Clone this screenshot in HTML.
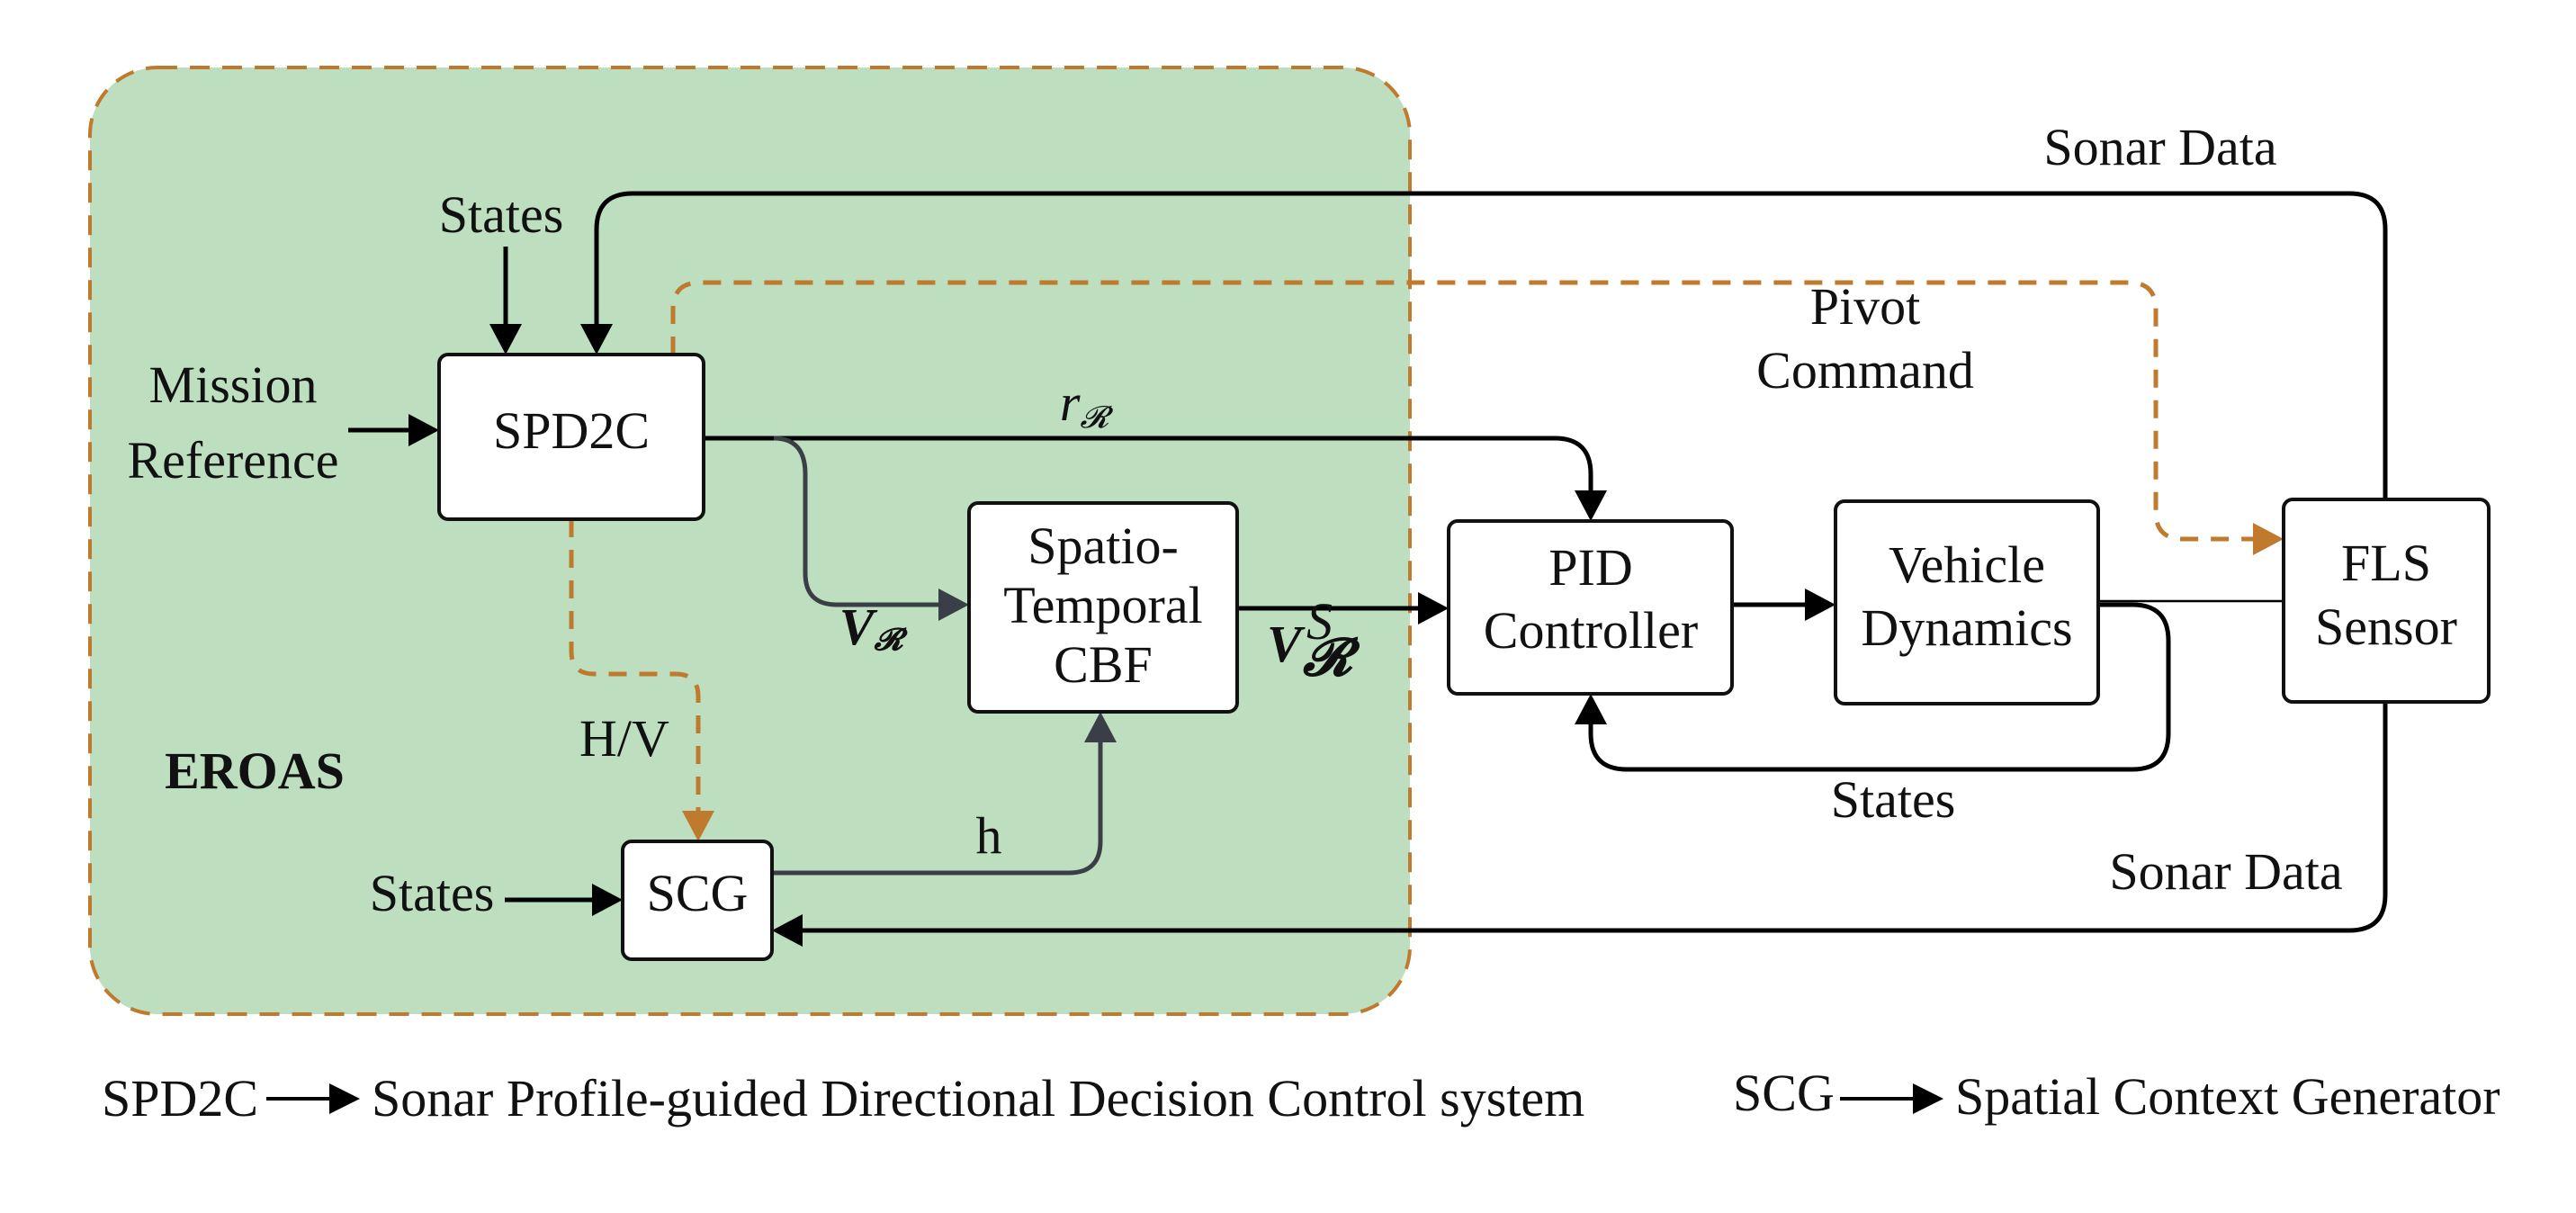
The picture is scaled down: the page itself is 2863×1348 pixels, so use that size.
<!DOCTYPE html>
<html><head><meta charset="utf-8"><style>
html,body{margin:0;padding:0;background:#fff;}
svg{display:block;}
text{font-family:"Liberation Serif",serif;font-size:58px;fill:#111;}
</style></head><body>
<svg width="2863" height="1348" viewBox="0 0 2863 1348" xmlns="http://www.w3.org/2000/svg">
<rect x="100" y="75" width="1467" height="1052" rx="75" fill="#bddfc0" stroke="#c07a2e" stroke-width="4" stroke-dasharray="22,14"/>

<g fill="none" stroke-linejoin="round">
<path d="M2651,555 V255 Q2651,215 2611,215 H703 Q663,215 663,255 V370" stroke="#000" stroke-width="5"/>
<path d="M645,360 L681,360 L663,394 z" fill="#000" stroke="none"/>
<path d="M562,274 V370" stroke="#000" stroke-width="5"/>
<path d="M544,360 L580,360 L562,394 z" fill="#000" stroke="none"/>
<path d="M748,394 V344 Q748,314 778,314 H2366 Q2396,314 2396,344 V569 Q2396,599 2426,599 H2510" stroke="#c07a2e" stroke-width="5" stroke-dasharray="20,14"/>
<path d="M2504,581 L2538,599 L2504,617 z" fill="#c07a2e" stroke="none"/>
<path d="M782,487 H1728 Q1768,487 1768,527 V555" stroke="#000" stroke-width="5"/>
<path d="M1750,545 L1786,545 L1768,579 z" fill="#000" stroke="none"/>
<path d="M860,487 Q895,487 895,527 V637 Q895,672 930,672 H1050" stroke="#3a3f47" stroke-width="5"/>
<path d="M1043,654 L1077,672 L1043,690 z" fill="#3a3f47" stroke="none"/>
<path d="M1375,676 H1585" stroke="#000" stroke-width="5"/>
<path d="M1576,658 L1610,676 L1576,694 z" fill="#000" stroke="none"/>
<path d="M1925,672 H2015" stroke="#000" stroke-width="5"/>
<path d="M2006,654 L2040,672 L2006,690 z" fill="#000" stroke="none"/>
<path d="M2332,668 H2538" stroke="#000" stroke-width="2.5"/>
<path d="M2332,672 H2370 Q2410,672 2410,712 V815 Q2410,855 2370,855 H1808 Q1768,855 1768,815 V795" stroke="#000" stroke-width="5"/>
<path d="M1750,805 L1786,805 L1768,771 z" fill="#000" stroke="none"/>
<path d="M2651,780 V994 Q2651,1034 2611,1034 H885" stroke="#000" stroke-width="5"/>
<path d="M892,1016 L858,1034 L892,1052 z" fill="#000" stroke="none"/>
<path d="M858,970 H1188 Q1223,970 1223,935 V815" stroke="#3a3f47" stroke-width="5"/>
<path d="M1205,825 L1241,825 L1223,791 z" fill="#3a3f47" stroke="none"/>
<path d="M635,577 V724 Q635,749 660,749 H751 Q776,749 776,774 V905" stroke="#c07a2e" stroke-width="5" stroke-dasharray="20,14"/>
<path d="M758,901 L794,901 L776,935 z" fill="#c07a2e" stroke="none"/>
<path d="M561,1000 H668" stroke="#000" stroke-width="5"/>
<path d="M658,982 L692,1000 L658,1018 z" fill="#000" stroke="none"/>
<path d="M387,478 H462" stroke="#000" stroke-width="5"/>
<path d="M454,460 L488,478 L454,496 z" fill="#000" stroke="none"/>
<path d="M296,1221 H372" stroke="#000" stroke-width="4"/>
<path d="M366,1204 L400,1221 L366,1238 z" fill="#000" stroke="none"/>
<path d="M2045,1221 H2132" stroke="#000" stroke-width="4"/>
<path d="M2126,1204 L2160,1221 L2126,1238 z" fill="#000" stroke="none"/>
</g>

<g fill="#fff" stroke="#111" stroke-width="4">
<rect x="488" y="394" width="294" height="183" rx="10"/>
<rect x="1077" y="559" width="298" height="232" rx="10"/>
<rect x="692" y="935" width="166" height="131" rx="10"/>
<rect x="1610" y="579" width="315" height="192" rx="10"/>
<rect x="2040" y="557" width="292" height="225" rx="10"/>
<rect x="2538" y="555" width="228" height="225" rx="10"/>
</g>

<g text-anchor="middle">
<text x="635" y="498">SPD2C</text>
<text x="1226" y="626">Spatio-</text>
<text x="1226" y="692">Temporal</text>
<text x="1226" y="758">CBF</text>
<text x="775" y="1012">SCG</text>
<text x="1768" y="650">PID</text>
<text x="1768" y="720">Controller</text>
<text x="2186" y="647">Vehicle</text>
<text x="2186" y="717">Dynamics</text>
<text x="2652" y="645">FLS</text>
<text x="2652" y="716">Sensor</text>
<text x="557" y="258">States</text>
<text x="259" y="447">Mission</text>
<text x="259" y="531">Reference</text>
<text x="2401" y="183">Sonar Data</text>
<text x="2073" y="360">Pivot</text>
<text x="2073" y="431">Command</text>
<text x="2104" y="908">States</text>
<text x="2474" y="988">Sonar Data</text>
<text x="1099" y="948">h</text>
<text x="694" y="840">H/V</text>
<text x="480" y="1012">States</text>
<text x="283" y="876" font-weight="bold">EROAS</text>
<text x="1205" y="467" font-style="italic" font-size="46">r<tspan font-size="34" dy="8">𝓡</tspan></text>
<text x="968" y="716" font-style="italic" font-weight="bold" font-size="52">V<tspan font-size="34" dy="6">𝓡</tspan></text>
</g>
<text x="1408" y="735" font-style="italic" font-weight="bold" font-size="52">V</text>
<text x="1452" y="710" font-style="italic" font-size="30">S</text>
<text x="1448" y="750" font-style="italic" font-weight="bold" font-size="26">𝓡</text>
<text x="113" y="1240">SPD2C</text>
<text x="413" y="1240">Sonar Profile-guided Directional Decision Control system</text>
<text x="1926" y="1234">SCG</text>
<text x="2173" y="1238">Spatial Context Generator</text>
</svg>
</body></html>
